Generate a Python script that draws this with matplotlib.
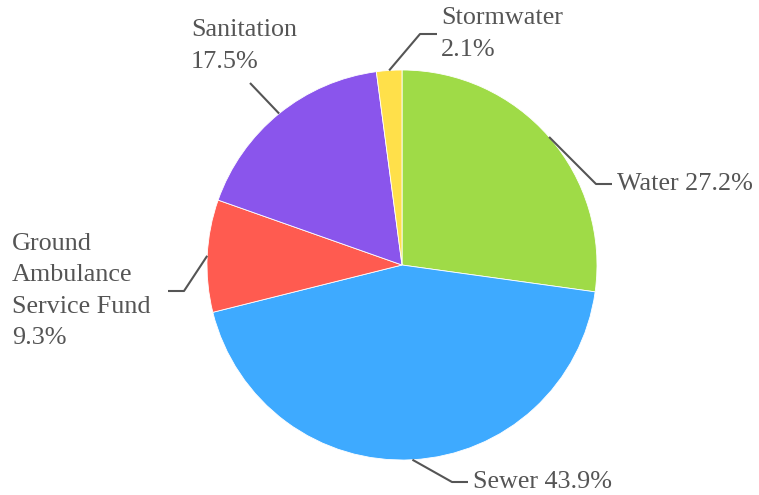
import numpy as np
import matplotlib.pyplot as plt

# slice data, clockwise from 12 o'clock
labels = ["Water", "Sewer", "Ground\nAmbulance\nService Fund", "Sanitation", "Stormwater"]
shares = [27.2, 43.9, 9.3, 17.5, 2.1]
colors = ["#9fdb47", "#3eaaff", "#ff5b50", "#8a55ec", "#ffe04a"]

# label text: single line or split after the name
label_text = ["Water 27.2%", "Sewer 43.9%", "Ground\nAmbulance\nService Fund\n9.3%",
              "Sanitation\n17.5%", "Stormwater\n2.1%"]

W, H = 759, 495
fig = plt.figure(figsize=(W / 100, H / 100), dpi=100)
ax = fig.add_axes([0, 0, 1, 1])

cx, cy, r = 402, H - 265, 195
wedges, _ = ax.pie(shares, colors=colors, startangle=90, counterclock=False,
                   radius=r, center=(cx, cy), frame=True,
                   wedgeprops=dict(edgecolor="white", linewidth=0.6))
ax.set_xlim(0, W)
ax.set_ylim(0, H)
ax.set_aspect("equal")
ax.axis("off")

# leader line elbows and text anchors (pixel layout, y measured from top)
elbows = [(596, 184), (452, 482), (184, 291), (250, 83), (420, 34)]
tails = [(612, 184), (468, 482), (168, 291), None, (437, 34)]
text_pos = [(617, 184), (473, 482), (12, 291), (191, 46), (441, 34)]

grey = "#555555"
for w, el, tl, tp, txt in zip(wedges, elbows, tails, text_pos, label_text):
    ang = np.deg2rad((w.theta1 + w.theta2) / 2)
    ex, ey = cx + r * np.cos(ang), cy + r * np.sin(ang)
    xs = [ex, el[0]]
    ys = [ey, H - el[1]]
    if tl is not None:
        xs.append(tl[0])
        ys.append(H - tl[1])
    ax.plot(xs, ys, color=grey, lw=1.5, solid_capstyle="butt")
    ax.text(tp[0], H - tp[1], txt, ha="left", va="center", color=grey,
            fontsize=18.8, family="Liberation Serif", linespacing=1.53)

fig.savefig("out.png", dpi=100)
